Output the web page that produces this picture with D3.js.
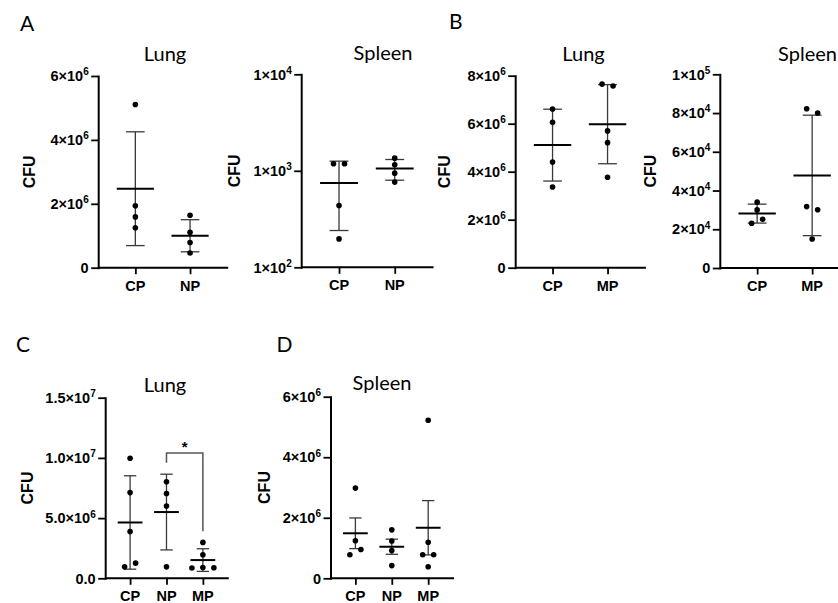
<!DOCTYPE html>
<html><head><meta charset="utf-8">
<script src="https://cdn.jsdelivr.net/npm/d3@7"></script>
<style>body{margin:0;background:#fff}svg{display:block}</style>
</head><body>
<svg id="chart" width="838" height="603"></svg>
<script>
// ---------------- DATA ----------------
const catsA = ["CP", "NP"];
const catsB = ["CP", "MP"];
const catsCD = ["CP", "NP", "MP"];

// A – Lung (CFU)
const lungA_CP = [5.11e6, 1.94e6, 1.59e6, 1.25e6];
const lungA_NP = [1.64e6, 1.11e6, 0.79e6, 0.46e6];
// A – Spleen (CFU, log axis)
const spleenA_CP = [1182, 1182, 437, 197];
const spleenA_NP = [1353, 1154, 946, 764];
// B – Lung
const lungB_CP = [6.61e6, 6.06e6, 4.40e6, 3.36e6];
const lungB_MP = [7.65e6, 7.57e6, 5.70e6, 5.21e6, 3.77e6];
// B – Spleen
const spleenB_CP = [3.40e4, 3.00e4, 2.31e4, 2.52e4];
const spleenB_MP = [8.22e4, 8.00e4, 3.17e4, 3.01e4, 1.50e4];
// C – Lung
const lungC_CP = [9.97e6, 7.12e6, 3.88e6, 0.95e6, 1.26e6];
const lungC_NP = [8.02e6, 7.04e6, 6.00e6, 0.95e6];
const lungC_MP = [2.98e6, 1.95e6, 0.86e6, 0.90e6, 0.88e6];
// D – Spleen
const spleenD_CP = [2.98e6, 1.24e6, 0.78e6, 0.95e6];
const spleenD_NP = [1.60e6, 1.23e6, 0.92e6, 0.42e6];
const spleenD_MP = [5.22e6, 1.19e6, 0.78e6, 0.78e6, 0.38e6];

// Axis ticks & labels
const ticksA_lung = [0, 2e6, 4e6, 6e6];
const tickLabelsA_lung = ["0", "2×10^6", "4×10^6", "6×10^6"];
const ticksA_spleen = [1e2, 1e3, 1e4];
const tickLabelsA_spleen = ["1×10^2", "1×10^3", "1×10^4"];
const ticksB_lung = [0, 2e6, 4e6, 6e6, 8e6];
const tickLabelsB_lung = ["0", "2×10^6", "4×10^6", "6×10^6", "8×10^6"];
const ticksB_spleen = [0, 2e4, 4e4, 6e4, 8e4, 1e5];
const tickLabelsB_spleen = ["0", "2×10^4", "4×10^4", "6×10^4", "8×10^4", "1×10^5"];
const ticksC = [0, 5e6, 1e7, 1.5e7];
const tickLabelsC = ["0.0", "5.0×10^6", "1.0×10^7", "1.5×10^7"];
const ticksD = [0, 2e6, 4e6, 6e6];
const tickLabelsD = ["0", "2×10^6", "4×10^6", "6×10^6"];

// significance annotation (panel C): from, to, bracket top value, leg ends, label
const sigC = {from: "NP", to: "MP", top: 1.04e7, legs: [9.6e6, 3.9e6], label: "*"};

// ---------------- LAYOUT ----------------
const panels = [
  {letter: "A", lx: 20, ly: 31, title: "Lung", tx: 165, ty: 61,
   x0: 98.7, step: 54.7, yTop: 76, yBot: 267.7, cfuOff: 69,
   cats: catsA, series: [lungA_CP, lungA_NP], type: "linear", domain: [0, 6e6],
   ticks: ticksA_lung, labels: tickLabelsA_lung, err: "sd"},
  {letter: null, title: "Spleen", tx: 383, ty: 60,
   x0: 301.7, step: 55.7, yTop: 74.3, yBot: 267.3, cfuOff: 67,
   cats: catsA, series: [spleenA_CP, spleenA_NP], type: "log", domain: [1e2, 1e4],
   ticks: ticksA_spleen, labels: tickLabelsA_spleen, err: "sd"},
  {letter: "B", lx: 449, ly: 29, title: "Lung", tx: 583.5, ty: 61,
   x0: 515.7, step: 55, yTop: 75.7, yBot: 267.7, cfuOff: 71,
   cats: catsB, series: [lungB_CP, lungB_MP], type: "linear", domain: [0, 8e6],
   ticks: ticksB_lung, labels: tickLabelsB_lung, err: "sd"},
  {letter: null, title: "Spleen", tx: 807.5, ty: 60.5,
   x0: 720.3, step: 55, yTop: 74.3, yBot: 268, cfuOff: 70,
   cats: catsB, series: [spleenB_CP, spleenB_MP], type: "linear", domain: [0, 1e5],
   ticks: ticksB_spleen, labels: tickLabelsB_spleen, err: "sd"},
  {letter: "C", lx: 16, ly: 352, title: "Lung", tx: 165, ty: 391.5,
   x0: 105.7, step: 36.4, yTop: 397.7, yBot: 578.3, cfuOff: 78,
   cats: catsCD, series: [lungC_CP, lungC_NP, lungC_MP], type: "linear", domain: [0, 1.5e7],
   ticks: ticksC, labels: tickLabelsC, err: "sd", sig: sigC},
  {letter: "D", lx: 276.5, ly: 352, title: "Spleen", tx: 382, ty: 390,
   x0: 331, step: 36.4, yTop: 396.7, yBot: 578.3, cfuOff: 67,
   cats: catsCD, series: [spleenD_CP, spleenD_NP, spleenD_MP], type: "linear", domain: [0, 6e6],
   ticks: ticksD, labels: tickLabelsD, err: "sem"}
];

const TICK_FONT = "'Liberation Sans', Arial, Helvetica, sans-serif";
const TITLE_FONT = "Lato, 'Open Sans', sans-serif";
const PAD = 0.67, DOT_R = 2.8, SPREAD = 11, ROW_TOL = 6.5;
const TICK_SIZE = 14.5, SUP_SIZE = 10;

const svg = d3.select("#chart");

function addSupText(sel, str, baseSize, supSize) {
  const parts = str.split("^");
  sel.append("tspan").text(parts[0]);
  if (parts.length > 1) {
    sel.append("tspan").attr("font-size", supSize).attr("dy", -baseSize * 0.4).text(parts[1]);
  }
}

panels.forEach(p => {
  const g = svg.append("g");
  const n = p.cats.length;
  const xLen = p.step * (n - 1 + 2 * PAD);
  const x = d3.scalePoint().domain(p.cats).range([p.x0, p.x0 + xLen]).padding(PAD);
  const y = (p.type === "log" ? d3.scaleLog() : d3.scaleLinear()).domain(p.domain).range([p.yBot, p.yTop]);

  if (p.letter) {
    svg.append("text").attr("x", p.lx).attr("y", p.ly).attr("font-family", TITLE_FONT)
      .attr("font-size", 21).attr("fill", "#000").text(p.letter);
  }
  g.append("text").attr("x", p.tx).attr("y", p.ty).attr("text-anchor", "middle")
    .attr("font-family", TITLE_FONT).attr("font-size", 20).attr("fill", "#000").text(p.title);

  const yAxis = d3.axisLeft(y).tickValues(p.ticks).tickSizeInner(7).tickSizeOuter(0).tickFormat("");
  const xAxis = d3.axisBottom(x).tickSizeInner(7).tickSizeOuter(0).tickFormat("");
  const ya = g.append("g").attr("transform", `translate(${p.x0 - 0.5},0)`).call(yAxis);
  const xa = g.append("g").attr("transform", `translate(0,${p.yBot - 0.5})`).call(xAxis);
  [ya, xa].forEach(a => {
    a.select(".domain").attr("stroke", "#000").attr("stroke-width", 2).attr("stroke-linecap", "square");
    a.selectAll(".tick line").attr("stroke", "#000").attr("stroke-width", 1.8);
  });

  p.ticks.forEach((t, i) => {
    const tx = g.append("text").attr("x", p.x0 - 10).attr("y", y(t) + 5.2)
      .attr("text-anchor", "end").attr("font-family", TICK_FONT).attr("font-weight", "bold")
      .attr("font-size", TICK_SIZE).attr("fill", "#000");
    addSupText(tx, p.labels[i], TICK_SIZE, SUP_SIZE);
  });
  p.cats.forEach(c => {
    g.append("text").attr("x", x(c)).attr("y", p.yBot + 23).attr("text-anchor", "middle")
      .attr("font-family", TICK_FONT).attr("font-weight", "bold").attr("font-size", 14.5)
      .attr("fill", "#000").text(c);
  });
  const cy = (p.yTop + p.yBot) / 2, cxl = p.x0 - p.cfuOff + 5.5;
  g.append("text").attr("transform", `translate(${cxl},${cy}) rotate(-90)`).attr("text-anchor", "middle")
    .attr("font-family", TICK_FONT).attr("font-weight", "bold").attr("font-size", 16)
    .attr("fill", "#000").text("CFU");

  p.series.forEach((vals, i) => {
    const cx = x(p.cats[i]);
    const mean = d3.mean(vals);
    const sd = d3.deviation(vals);
    const e = p.err === "sem" ? sd / Math.sqrt(vals.length) : sd;
    const hi = mean + e, lo = mean - e;
    const capW = p.step * 0.17, meanW = p.step * 0.34;
    const eb = g.append("g").attr("stroke", "#3a3a3a").attr("stroke-width", 1.3);
    eb.append("line").attr("x1", cx).attr("x2", cx).attr("y1", y(hi)).attr("y2", y(lo));
    eb.append("line").attr("x1", cx - capW).attr("x2", cx + capW).attr("y1", y(hi)).attr("y2", y(hi));
    eb.append("line").attr("x1", cx - capW).attr("x2", cx + capW).attr("y1", y(lo)).attr("y2", y(lo));
    g.append("line").attr("x1", cx - meanW).attr("x2", cx + meanW).attr("y1", y(mean)).attr("y2", y(mean))
      .attr("stroke", "#000").attr("stroke-width", 2);

    const pts = vals.map((v, j) => ({v, j, py: y(v)}));
    const sorted = pts.slice().sort((a, b) => a.py - b.py);
    const rows = [];
    sorted.forEach(pt => {
      const r = rows[rows.length - 1];
      if (r && pt.py - r[0].py < ROW_TOL) r.push(pt); else rows.push([pt]);
    });
    rows.forEach(r => {
      r.sort((a, b) => a.j - b.j);
      r.forEach((pt, k) => { pt.px = cx + (k - (r.length - 1) / 2) * SPREAD; });
    });
    g.selectAll(null).data(pts).enter().append("circle")
      .attr("cx", d => d.px).attr("cy", d => d.py).attr("r", DOT_R).attr("fill", "#000");
  });

  if (p.sig) {
    const s = p.sig;
    const x1 = x(s.from), x2 = x(s.to), yt = y(s.top);
    g.append("path")
      .attr("d", `M${x1},${y(s.legs[0])}V${yt}H${x2}V${y(s.legs[1])}`)
      .attr("fill", "none").attr("stroke", "#555").attr("stroke-width", 1.5);
    g.append("text").attr("x", (x1 + x2) / 2).attr("y", yt - 1).attr("text-anchor", "middle")
      .attr("font-family", TICK_FONT).attr("font-weight", "bold").attr("font-size", 15)
      .attr("fill", "#000").text(s.label);
  }
});
</script>
</body></html>
